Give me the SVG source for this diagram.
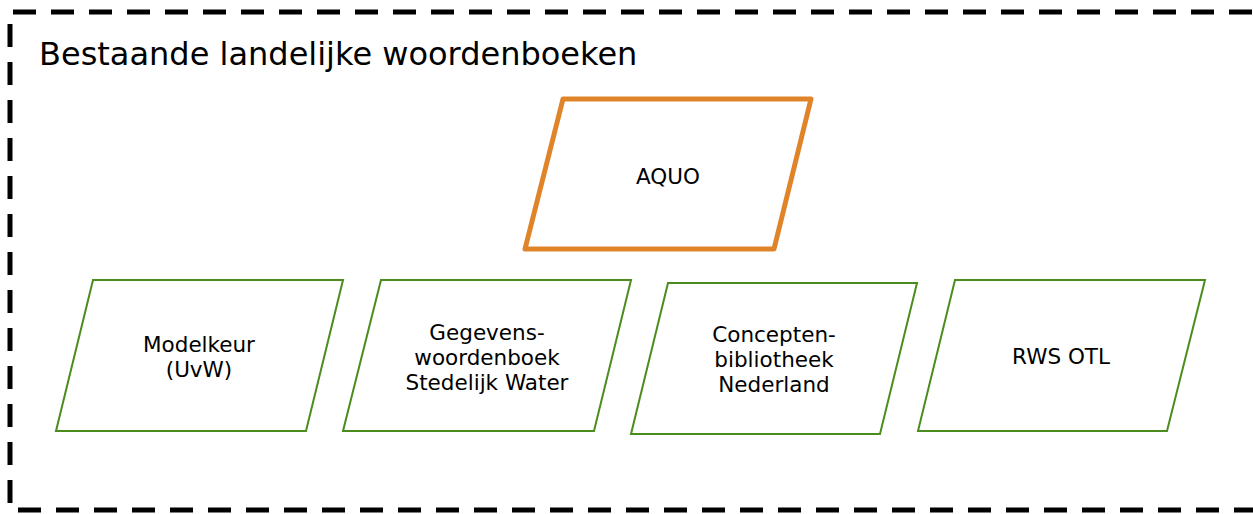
<svg xmlns="http://www.w3.org/2000/svg" width="1253" height="514" viewBox="0 0 1253 514">
<style>
.border{fill:none;stroke:#000;stroke-width:5;stroke-dasharray:23 15}
.aquo{fill:#fff;stroke:#E0842A;stroke-width:5;stroke-linejoin:round}
.box{fill:#fff;stroke:#4A8D1E;stroke-width:2}
text{font-family:"DejaVu Sans","Verdana",sans-serif;fill:#000}
.lbl{font-size:21.5px;text-anchor:middle}
.title{font-size:32px}
</style>
<rect width="1253" height="514" fill="#fff"/>
<g id="container">
<path class="border" d="M1290 12 H10 V510 H1290"/>
<text class="title" x="39" y="65">Bestaande landelijke woordenboeken</text>
</g>
<g id="connectors"></g>
<g id="aquo">
<polygon class="aquo" points="563,99 811,99 774,249 525,249"/>
<text class="lbl" x="668" y="184">AQUO</text>
</g>
<g id="modelkeur">
<polygon class="box" points="93,280 343,280 306,431 56,431"/>
<text class="lbl" x="199" y="352">Modelkeur</text>
<text class="lbl" x="199" y="377">(UvW)</text>
</g>
<g id="gegevenswoordenboek">
<polygon class="box" points="381,280 631,280 594,431 343,431"/>
<text class="lbl" x="487" y="340">Gegevens-</text>
<text class="lbl" x="487" y="365">woordenboek</text>
<text class="lbl" x="487" y="390">Stedelijk Water</text>
</g>
<g id="conceptenbibliotheek">
<polygon class="box" points="668,283 917,283 880,434 631,434"/>
<text class="lbl" x="774" y="342">Concepten-</text>
<text class="lbl" x="774" y="367">bibliotheek</text>
<text class="lbl" x="774" y="392">Nederland</text>
</g>
<g id="rwsotl">
<polygon class="box" points="955,280 1205,280 1167,431 918,431"/>
<text class="lbl" x="1061" y="364">RWS OTL</text>
</g>
</svg>
